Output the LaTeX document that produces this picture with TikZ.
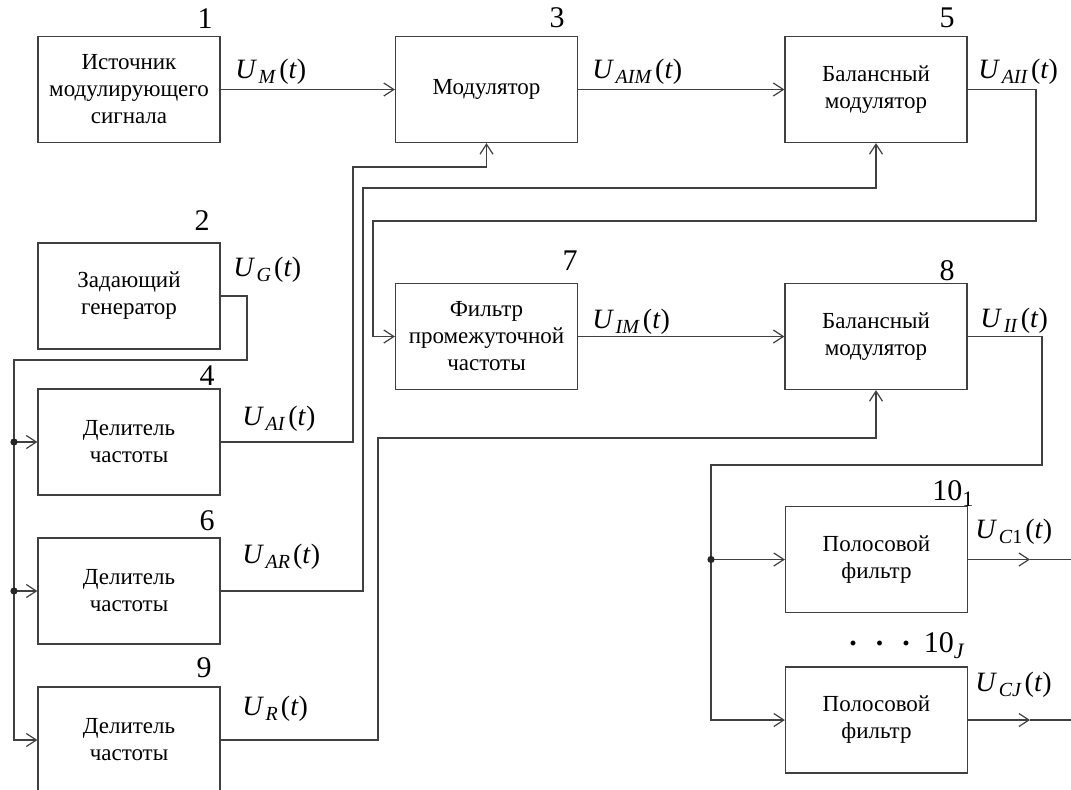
\documentclass[tikz,border=0pt]{standalone}
\usepackage{fontspec}
\setmainfont{Liberation Serif}
\usepackage{tikz}
\usetikzlibrary{arrows.meta}
\tikzstyle{block} = [draw=black!75, line width=0.6pt, rectangle, minimum width=91pt, minimum height=53pt, inner sep=0pt, align=center, font=\fontsize{11.5}{13.5}\selectfont]
\tikzstyle{wire} = [draw=black!75, line width=0.6pt]
\tikzstyle{arrow} = [wire, ->, >={Straight Barb[length=5pt,width=6.5pt]}]
\tikzstyle{num} = [inner sep=0pt, font=\fontsize{15}{15}\selectfont, anchor=base east]
\tikzstyle{sig} = [inner sep=0pt, font=\fontsize{14}{16}\selectfont, anchor=base west]
\newcommand{\usig}[1]{\textit{U}\kern0.8pt\raisebox{-2.8pt}{\fontsize{10}{10}\selectfont\textit{#1}}\kern1.5pt(\textit{t})}

\begin{document}
\begin{tikzpicture}[x=0.5pt, y=-0.5pt]
        \useasboundingbox (0,0) rectangle (1071,789);
        \clip (0,0) rectangle (1071,789);
        % Blocks
        \node[block] (b1) at (129,89.5) {Источник\\модулирующего\\сигнала};
        \node[block] (b2) at (129,296) {Задающий\\генератор};
        \node[block] (b3) at (486.5,89.5) {Модулятор};
        \node[block] (b4) at (129,442) {Делитель\\частоты};
        \node[block] (b5) at (876,89.5) {Балансный\\модулятор};
        \node[block] (b6) at (129,591) {Делитель\\частоты};
        \node[block] (b7) at (486.5,336.5) {Фильтр\\промежуточной\\частоты};
        \node[block] (b8) at (876,336.5) {Балансный\\модулятор};
        \node[block] (b9) at (129,740) {Делитель\\частоты};
        \node[block] (b10a) at (876.5,559.5) {Полосовой\\фильтр};
        \node[block] (b10b) at (876.5,720) {Полосовой\\фильтр};

        % Block numbers
        \node[num] (n1) at (213,28) {1};
        \node[num] (n2) at (210,230) {2};
        \node[num] (n3) at (565,27) {3};
        \node[num] (n4) at (215,385) {4};
        \node[num] (n5) at (955,27) {5};
        \node[num] (n6) at (215,530) {6};
        \node[num] (n7) at (578,270) {7};
        \node[num] (n8) at (955,280) {8};
        \node[num] (n9) at (212,677) {9};
        \node[num, anchor=base west] (n10a) at (932,500) {10\raisebox{-3pt}{\fontsize{11}{11}\selectfont 1}};
        \node[num, anchor=base west] (n10b) at (849,652) {\raisebox{3.5pt}{\textbf{.}}\hspace{9.5pt}\raisebox{3.5pt}{\textbf{.}}\hspace{9.5pt}\raisebox{3.5pt}{\textbf{.}}\hspace{7pt}10\raisebox{-3pt}{\fontsize{11}{11}\selectfont\textit{J}}};

        % Signal labels
        \node[sig] (sM) at (235,78) {\usig{M}};
        \node[sig] (sAIM) at (592,78) {\usig{AIM}};
        \node[sig] (sAII) at (978,78) {\usig{AII}};
        \node[sig] (sG) at (233,276) {\usig{G}};
        \node[sig] (sAI) at (242,425) {\usig{AI}};
        \node[sig] (sAR) at (242,563) {\usig{AR}};
        \node[sig] (sR) at (242,715) {\usig{R}};
        \node[sig] (sIM) at (592,328) {\usig{IM}};
        \node[sig] (sII) at (980,327) {\usig{II}};
        \node[sig] (sC1) at (975,538) {\usig{C\textup{1}}};
        \node[sig] (sCJ) at (975,691) {\usig{CJ}};

        % Main chain
        \draw[arrow] (b1) -- (b3);
        \draw[arrow] (b3) -- (b5);
        \draw[arrow] (b7) -- (b8);

        % Balanced modulator 5 back to filter 7
        \coordinate (c5) at (1036,221);
        \coordinate (c7) at (373,221);
        \draw[arrow] (b5.east) -| (c5) -- (c7) |- (b7.west);

        % Generator bus
        \coordinate (g1) at (247,360);
        \coordinate (g2) at (14,360);
        \coordinate (d4) at (g2 |- b4.west);
        \coordinate (d6) at (g2 |- b6.west);
        \draw[arrow] (b2.east) -| (g1) -- (g2) |- (b9.west);
        \draw[arrow] (d4) -- (b4.west);
        \draw[arrow] (d6) -- (b6.west);
        \fill[black!85] (d4) circle (1.8pt);
        \fill[black!85] (d6) circle (1.8pt);

        % Dividers to the modulators
        \coordinate (c4) at (353,167);
        \coordinate (c6) at (363,188);
        \coordinate (c9) at (378,438);
        \draw[arrow] (b4.east) -| (c4) -| (b3.south);
        \draw[arrow] (b6.east) -| (c6) -| (b5.south);
        \draw[arrow] (b9.east) -| (c9) -| (b8.south);

        % Balanced modulator 8 to the band filters
        \coordinate (c8) at (1042,465);
        \coordinate (f0) at (711,465);
        \coordinate (d10) at (f0 |- b10a.west);
        \draw[arrow] (b8.east) -| (c8) -- (f0) |- (b10b.west);
        \draw[arrow] (d10) -- (b10a.west);
        \fill[black!85] (d10) circle (1.8pt);

        % Outputs
        \coordinate (o1) at (1030,559.5);
        \coordinate (e1) at (1080,559.5);
        \coordinate (o2) at (1030,720);
        \coordinate (e2) at (1080,720);
        \draw[arrow] (b10a.east) -- (o1);
        \draw[wire] (o1) -- (e1);
        \draw[arrow] (b10b.east) -- (o2);
        \draw[wire] (o2) -- (e2);
\end{tikzpicture}
\end{document}
